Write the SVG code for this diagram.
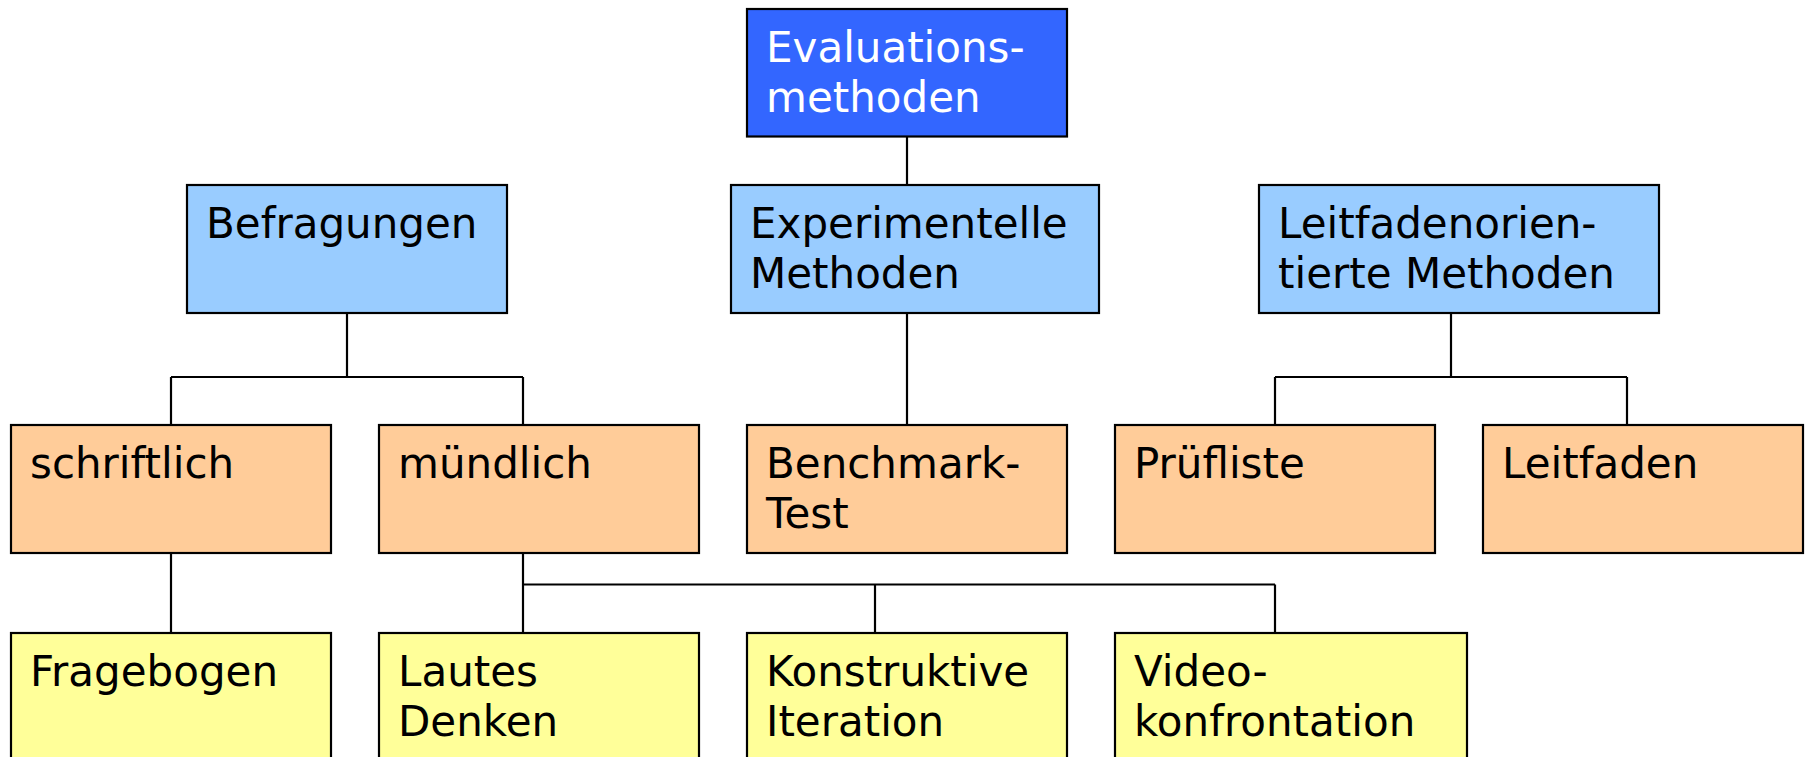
<svg xmlns="http://www.w3.org/2000/svg" width="1806" height="757" viewBox="0 0 1806 757">
<style>
.box{stroke:#000;stroke-width:2.2}
.l0{fill:#3366FF}
.l1{fill:#99CCFF}
.l2{fill:#FFCC99}
.l3{fill:#FFFF99}
text{font-family:"DejaVu Sans","Verdana",sans-serif;font-size:42px;fill:#000}
.w{fill:#fff}
.conn line{stroke:#000;stroke-width:2.2}
</style>
<rect width="1806" height="757" fill="#fff"/>
<g class="conn">
<line x1="907" y1="136" x2="907" y2="185"/>
<line x1="347" y1="313" x2="347" y2="377"/>
<line x1="171" y1="377" x2="523" y2="377"/>
<line x1="171" y1="377" x2="171" y2="425"/>
<line x1="523" y1="377" x2="523" y2="425"/>
<line x1="907" y1="313" x2="907" y2="425"/>
<line x1="1451" y1="313" x2="1451" y2="377"/>
<line x1="1275" y1="377" x2="1627" y2="377"/>
<line x1="1275" y1="377" x2="1275" y2="425"/>
<line x1="1627" y1="377" x2="1627" y2="425"/>
<line x1="171" y1="553" x2="171" y2="633"/>
<line x1="523" y1="553" x2="523" y2="633"/>
<line x1="523" y1="584.5" x2="1275" y2="584.5"/>
<line x1="875" y1="584.5" x2="875" y2="633"/>
<line x1="1275" y1="584.5" x2="1275" y2="633"/>
</g>
<g id="evaluationsmethoden">
<rect class="box l0" x="747" y="9" width="320" height="127.5"/>
<text class="w" x="766" y="61.5">Evaluations-</text>
<text class="w" x="766" y="112">methoden</text>
</g>
<g id="befragungen">
<rect class="box l1" x="187" y="185" width="320" height="128"/>
<text x="206" y="237.5">Befragungen</text>
</g>
<g id="experimentelle">
<rect class="box l1" x="731" y="185" width="368" height="128"/>
<text x="750" y="237.5">Experimentelle</text>
<text x="750" y="288">Methoden</text>
</g>
<g id="leitfadenorientierte">
<rect class="box l1" x="1259" y="185" width="400" height="128"/>
<text x="1278" y="237.5">Leitfadenorien-</text>
<text x="1278" y="288">tierte Methoden</text>
</g>
<g id="schriftlich">
<rect class="box l2" x="11" y="425" width="320" height="128"/>
<text x="30" y="477.5">schriftlich</text>
</g>
<g id="muendlich">
<rect class="box l2" x="379" y="425" width="320" height="128"/>
<text x="398" y="477.5">mündlich</text>
</g>
<g id="benchmark">
<rect class="box l2" x="747" y="425" width="320" height="128"/>
<text x="766" y="477.5">Benchmark-</text>
<text x="766" y="528">Test</text>
</g>
<g id="pruefliste">
<rect class="box l2" x="1115" y="425" width="320" height="128"/>
<text x="1134" y="477.5">Prüfliste</text>
</g>
<g id="leitfaden">
<rect class="box l2" x="1483" y="425" width="320" height="128"/>
<text x="1502" y="477.5">Leitfaden</text>
</g>
<g id="fragebogen">
<rect class="box l3" x="11" y="633" width="320" height="130"/>
<text x="30" y="685.5">Fragebogen</text>
</g>
<g id="lautes-denken">
<rect class="box l3" x="379" y="633" width="320" height="130"/>
<text x="398" y="685.5">Lautes</text>
<text x="398" y="736">Denken</text>
</g>
<g id="konstruktive-iteration">
<rect class="box l3" x="747" y="633" width="320" height="130"/>
<text x="766" y="685.5">Konstruktive</text>
<text x="766" y="736">Iteration</text>
</g>
<g id="videokonfrontation">
<rect class="box l3" x="1115" y="633" width="352" height="130"/>
<text x="1134" y="685.5">Video-</text>
<text x="1134" y="736">konfrontation</text>
</g>
</svg>
